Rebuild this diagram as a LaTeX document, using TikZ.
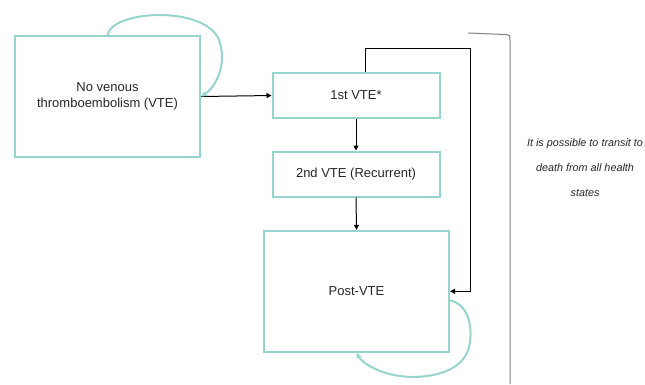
\documentclass[tikz,border=0pt]{standalone}
\usepackage{fontspec}
\setmainfont{Liberation Sans}
\usetikzlibrary{arrows.meta}
\definecolor{teal1}{RGB}{150,212,204}
\definecolor{brk}{RGB}{128,128,128}
\tikzset{
  state/.style={draw=teal1, line width=2pt, inner sep=2pt, align=center,
    font=\fontsize{13}{16}\selectfont, text=black!85},
  flow/.style={draw=black, line width=1pt, -{Triangle[length=5pt,width=5pt]}},
  selfloop/.style={draw=teal1, line width=2pt, -{Stealth[length=6pt,width=6pt]}},
}
\begin{document}
\begin{tikzpicture}[x=1pt,y=-1pt]
\useasboundingbox (0,0) rectangle (645,384);
\node[state, minimum width=185pt, minimum height=121pt] (A) at (107.5,96.5) {No venous\\thromboembolism (VTE)};
\node[state, minimum width=167pt, minimum height=45pt] (B) at (356,95.5) {1st VTE*};
\node[state, minimum width=167pt, minimum height=45pt] (C) at (356,174) {2nd VTE (Recurrent)};
\node[state, minimum width=185pt, minimum height=121pt] (D) at (356.5,291.3) {Post-VTE};
\coordinate (r1) at (470.5,48);
\coordinate (bt) at (468,33);
\coordinate (bb) at (510,384);
\draw[flow] (A.east) -- (B.west);
\draw[flow] (B.south) -- (C.north);
\draw[flow] (C.south) -- (D.north);
\draw[flow] ([xshift=9pt]B.north) |- (r1) |- (D.east);
\draw[selfloop] (A.north) .. controls (112,10) and (205,5) .. (219,40) .. controls (228,65) and (215,88) .. (A.east);
\draw[selfloop] ([yshift=-9pt]D.east) .. controls (470,305) and (473,330) .. (469,347) .. controls (462,376) and (420,379) .. (400,376) .. controls (378,373) and (362,363) .. (D.south);
\draw[brk, line width=1pt] (bt) -- (505,34.5) .. controls (510,35) .. (510,41) -- (bb);
\node[align=center, font=\fontsize{10.8}{25}\selectfont\itshape, text=black!85] (note) at (585,168) {It is possible to transit to\\death from all health\\states};
\end{tikzpicture}
\end{document}
